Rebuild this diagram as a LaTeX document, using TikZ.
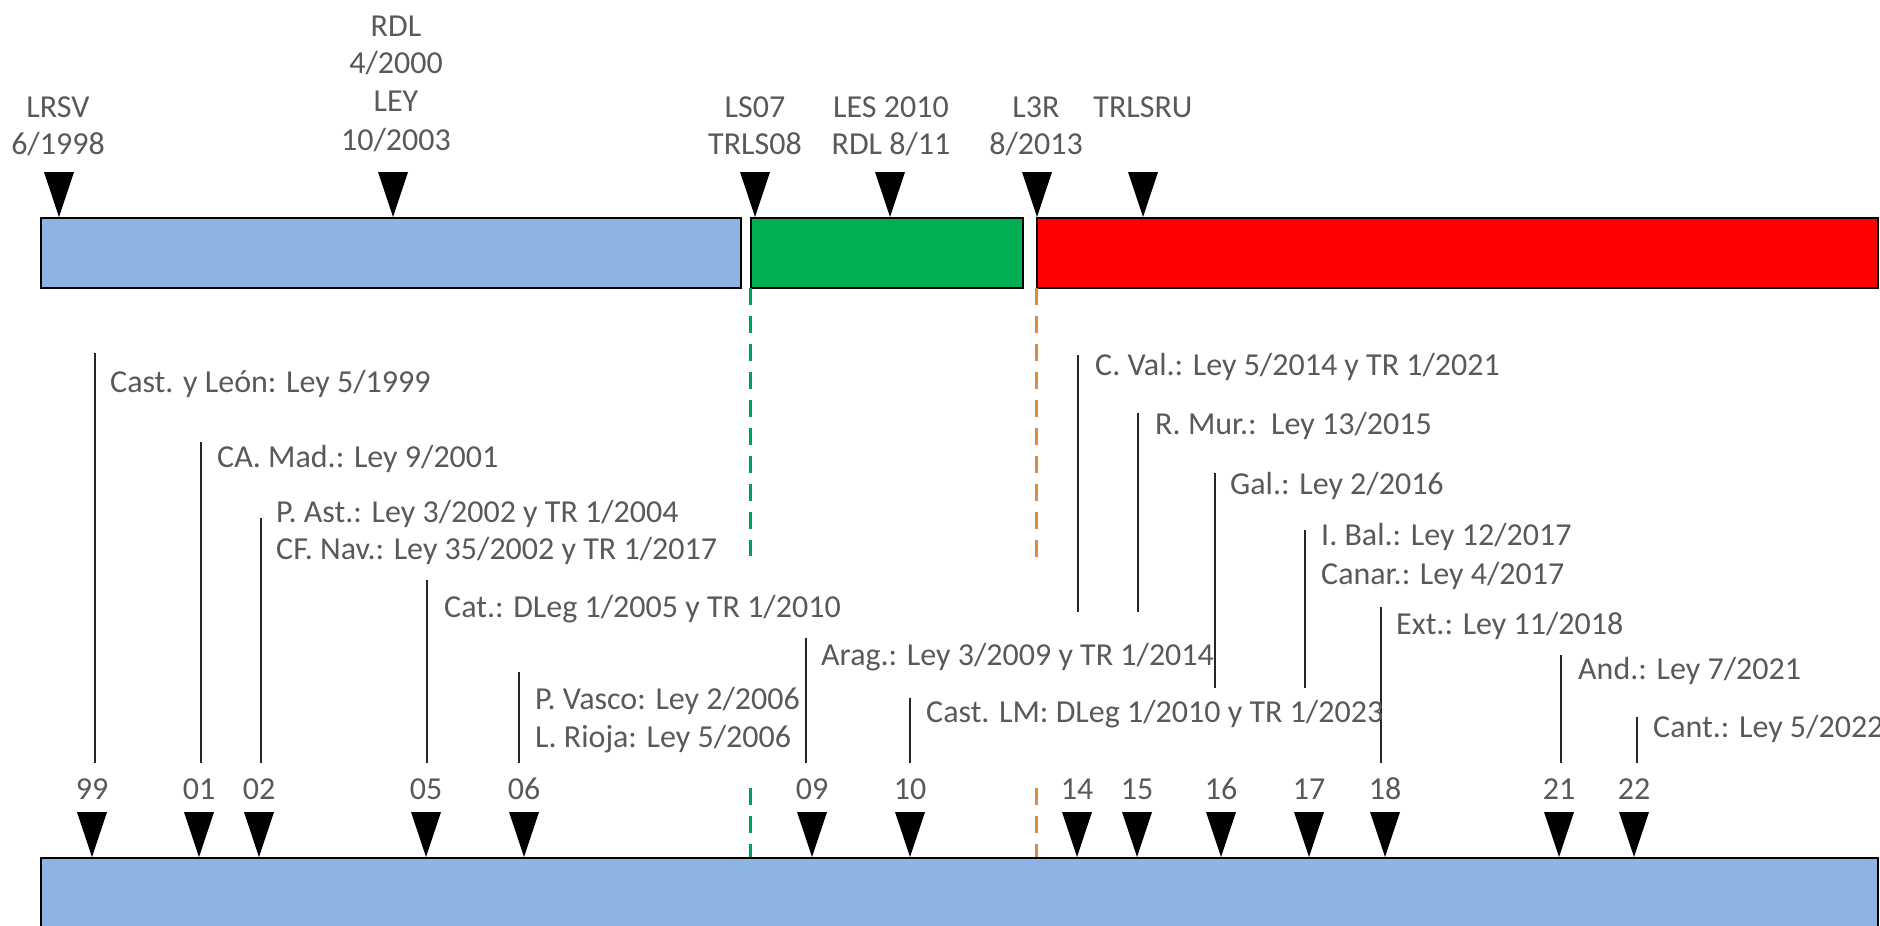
\documentclass[tikz,border=0pt]{standalone}
\usepackage{fontspec}
\setmainfont{Carlito}
\definecolor{barblue}{HTML}{8EB4E3}
\definecolor{bargreen}{HTML}{00B050}
\definecolor{barred}{HTML}{FF0000}
\definecolor{txtgray}{HTML}{595959}
\definecolor{dashgreen}{HTML}{00A05A}
\definecolor{dashorange}{HTML}{E08A3C}
\begin{document}
\begin{tikzpicture}[x=1pt,y=-1pt,
  lbl/.style={text=txtgray, inner sep=0pt, text height=21pt, text depth=6pt, font=\fontsize{32}{38}\selectfont},
  note/.style={lbl, anchor=west},
  tick/.style={line width=1.5pt, draw=black!85},
  bar/.style={draw=black, line width=1.5pt},
  dashg/.style={draw=dashgreen, line width=3pt, dash pattern=on 17pt off 11pt},
  dasho/.style={draw=dashorange, line width=3pt, dash pattern=on 17pt off 11pt},
  tri/.pic={\fill[black] (-15,0) -- (15,0) -- (0,45) -- cycle;}
]
\useasboundingbox (0,0) rectangle (1880,926);
\clip (0,0) rectangle (1880,926);

% top bars
\draw[bar, fill=barblue] (41,218) rectangle (741,288);
\draw[bar, fill=bargreen] (751,218) rectangle (1023,288);
\draw[bar, fill=barred] (1037,218) rectangle (1878,288);

% top markers
\pic at (59,172) {tri};
\pic at (393,172) {tri};
\pic at (755,172) {tri};
\pic at (890,172) {tri};
\pic at (1037,172) {tri};
\pic at (1143,172) {tri};

% top labels
\node[lbl] (lrsv) at (58,110) {LRSV};
\node[lbl] (lrsvb) at (58,147) {6/1998};
\node[lbl] (rdl) at (396,29) {RDL};
\node[lbl] (rdlb) at (396,66) {4/2000};
\node[lbl] (ley) at (396,104) {LEY};
\node[lbl] (leyb) at (396,143) {10/2003};
\node[lbl] (ls) at (755,110) {LS07};
\node[lbl] (lsb) at (755,147) {TRLS08};
\node[lbl] (les) at (891,110) {LES 2010};
\node[lbl] (lesb) at (891,147) {RDL 8/11};
\node[lbl] (l3r) at (1036,110) {L3R};
\node[lbl] (l3rb) at (1036,147) {8/2013};
\node[lbl] (trlsru) at (1143,110) {TRLSRU};

% dashed separators
\coordinate (g1a) at (750,288); \coordinate (g1b) at (750,556);
\coordinate (g2a) at (750,788); \coordinate (g2b) at (750,858);
\coordinate (o1a) at (1036,288); \coordinate (o1b) at (1036,557);
\coordinate (o2a) at (1036,788); \coordinate (o2b) at (1036,858);
\draw[dashg] (g1a) -- (g1b);
\draw[dashg] (g2a) -- (g2b);
\draw[dasho] (o1a) -- (o1b);
\draw[dasho] (o2a) -- (o2b);

% bottom bar
\draw[bar, fill=barblue] (41,858) rectangle (1878,960);

% bottom markers and year labels
\foreach \x/\yr in {92/99, 199/01, 259/02, 426/05, 524/06, 812/09, 910/10, 1077/14, 1137/15, 1221/16, 1309/17, 1385/18, 1559/21, 1634/22}{
  \pic at (\x,812) {tri};
  \node[lbl] (y\yr) at (\x,792) {\yr};
}

% leader lines
\foreach \n/\x/\a/\b in {99/95/353/763, 01/201/442/763, 02/261/518/763, 05/427/580/763, 06/519/672/763, 09/806/638/763, 10/910/698/763, 14/1078/355/612, 15/1138/413/612, 16/1215/473/688, 17/1305/530/688, 18/1381/607/763, 21/1561/655/763, 22/1637/717/763}{
  \coordinate (t\n) at (\x,\a);
  \coordinate (b\n) at (\x,\b);
  \draw[tick] (t\n) -- (b\n);
}

% notes
\node[note] (n99) at (110,385) {Cast. y León: Ley 5/1999};
\node[note] (n01) at (217,460) {CA. Mad.: Ley 9/2001};
\node[note] (n02a) at (276,515) {P. Ast.: Ley 3/2002 y TR 1/2004};
\node[note] (n02b) at (276,552) {CF. Nav.: Ley 35/2002 y TR 1/2017};
\node[note] (n05) at (444,610) {Cat.: DLeg 1/2005 y TR 1/2010};
\node[note] (n06a) at (535,702) {P. Vasco: Ley 2/2006};
\node[note] (n06b) at (535,740) {L. Rioja: Ley 5/2006};
\node[note] (n09) at (821,658) {Arag.: Ley 3/2009 y TR 1/2014};
\node[note] (n10) at (926,715) {Cast. LM: DLeg 1/2010 y TR 1/2023};
\node[note] (n14) at (1095,368) {C. Val.: Ley 5/2014 y TR 1/2021};
\node[note] (n15) at (1155,427) {R. Mur.:\ \ Ley 13/2015};
\node[note] (n16) at (1230,487) {Gal.: Ley 2/2016};
\node[note] (n17a) at (1321,538) {I. Bal.: Ley 12/2017};
\node[note] (n17b) at (1321,577) {Canar.: Ley 4/2017};
\node[note] (n18) at (1396,627) {Ext.: Ley 11/2018};
\node[note] (n21) at (1578,672) {And.: Ley 7/2021};
\node[note] (n22) at (1653,730) {Cant.: Ley 5/2022};
\end{tikzpicture}
\end{document}
